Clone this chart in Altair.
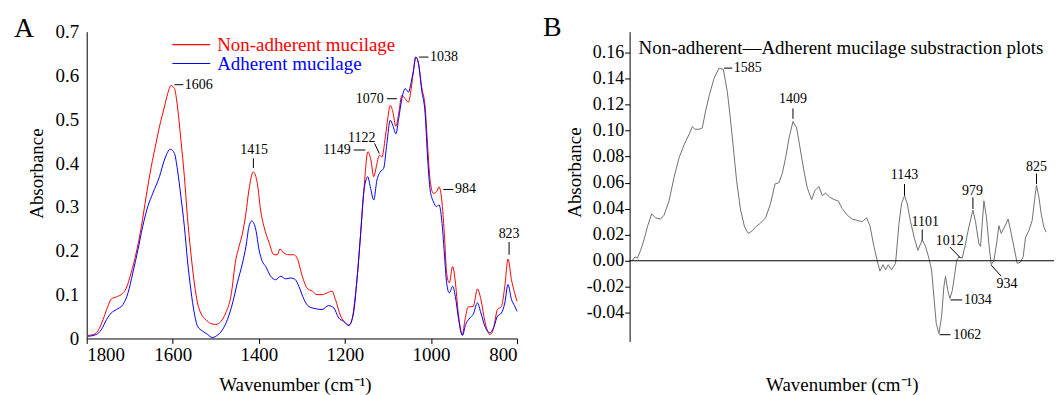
import altair as alt
import pandas as pd

FONT = "Liberation Serif"

# ---------------- Panel A data ----------------
series_names = ["Non-adherent mucilage", "Adherent mucilage"]
series_colors = ["#ff0000", "#0000ff"]

wn_red = [1797, 1785, 1774, 1762, 1751, 1743, 1731, 1720, 1708, 1697, 1685, 1673, 1662, 1650, 1639,
          1631, 1619.5, 1612, 1604, 1596, 1589, 1581, 1573, 1566, 1558, 1550, 1542.5, 1535, 1523,
          1511.5, 1500, 1488, 1477, 1465, 1453.5, 1446, 1438, 1430, 1423, 1413, 1403.5, 1396, 1388,
          1376, 1365, 1357, 1351, 1342, 1330, 1318.5, 1311, 1299, 1288, 1276, 1265, 1253, 1241,
          1230, 1222, 1210, 1199, 1191, 1183.5, 1176, 1172, 1164, 1156.5, 1146.5, 1139.6, 1133,
          1127, 1120, 1114, 1106, 1100, 1094.7, 1088.6, 1081.6, 1075, 1067.7, 1060, 1052.3, 1046,
          1040.7, 1035.4, 1029, 1021.5, 1013.6, 1007.6, 1002, 994.4, 986.8, 981.3, 975, 969,
          963.6, 957.4, 949.7, 944, 936.6, 927, 921, 913.4, 902, 892, 884, 874.8, 863, 855.5,
          845.5, 836.3, 828.5, 821, 813, 806, 800]
abs_red = [0.007, 0.009, 0.017, 0.043, 0.073, 0.090, 0.095, 0.100, 0.115, 0.149, 0.195, 0.255, 0.323,
           0.392, 0.445, 0.483, 0.528, 0.558, 0.577, 0.570, 0.528, 0.452, 0.369, 0.278, 0.195, 0.127,
           0.081, 0.058, 0.043, 0.034, 0.032, 0.039, 0.058, 0.096, 0.180, 0.210, 0.240, 0.286, 0.339,
           0.380, 0.354, 0.293, 0.255, 0.218, 0.191, 0.191, 0.204, 0.195, 0.191, 0.191, 0.183, 0.142,
           0.115, 0.108, 0.100, 0.100, 0.104, 0.108, 0.089, 0.051, 0.036, 0.030, 0.043, 0.096, 0.134,
           0.232, 0.331, 0.426, 0.407, 0.369, 0.392, 0.418, 0.414, 0.460, 0.505, 0.532, 0.517, 0.484,
           0.513, 0.555, 0.547, 0.539, 0.570, 0.611, 0.642, 0.627, 0.573, 0.528, 0.437, 0.361, 0.331,
           0.335, 0.346, 0.316, 0.240, 0.149, 0.127, 0.164, 0.134, 0.058, 0.009, 0.043, 0.072, 0.073,
           0.113, 0.089, 0.039, 0.009, 0.020, 0.066, 0.073, 0.119, 0.181, 0.134, 0.105, 0.085]

wn_blue = [1797, 1778, 1766, 1754, 1743, 1731, 1716, 1704, 1693, 1681, 1670, 1658, 1646.5, 1631,
           1619.5, 1605.5, 1596, 1589, 1581, 1573, 1566, 1558, 1550, 1542.5, 1531, 1519, 1508, 1500,
           1484.5, 1473, 1461, 1450, 1438, 1430, 1423, 1416.5, 1407, 1399.5, 1392, 1384, 1372.5,
           1361, 1349, 1338, 1326, 1315, 1307, 1295, 1284, 1268.5, 1253, 1238, 1226, 1214.5, 1203,
           1191, 1180, 1172, 1164, 1156.5, 1151, 1147, 1141, 1133, 1125.7, 1118, 1110, 1102.5,
           1094.7, 1088.6, 1081.6, 1075, 1067.7, 1060, 1052.3, 1046, 1040.7, 1035.4, 1029, 1021.5,
           1013.6, 1007.6, 1002, 994.4, 986.8, 981.3, 975, 969, 963.6, 957.4, 949.7, 943.4, 935.7,
           927, 919.4, 909.6, 902, 892, 884, 874.8, 863, 853.3, 845.5, 836.3, 828.5, 821, 813, 806,
           800]
abs_blue = [0.005, 0.009, 0.020, 0.043, 0.058, 0.066, 0.077, 0.104, 0.149, 0.202, 0.255, 0.301,
            0.331, 0.369, 0.407, 0.432, 0.422, 0.384, 0.323, 0.255, 0.180, 0.111, 0.058, 0.028,
            0.017, 0.009, 0.002, 0.005, 0.020, 0.043, 0.081, 0.127, 0.172, 0.210, 0.255, 0.268,
            0.248, 0.202, 0.176, 0.164, 0.142, 0.134, 0.142, 0.136, 0.138, 0.134, 0.119, 0.089,
            0.073, 0.068, 0.066, 0.075, 0.070, 0.047, 0.039, 0.030, 0.058, 0.134, 0.232, 0.331,
            0.362, 0.369, 0.346, 0.316, 0.361, 0.380, 0.388, 0.445, 0.498, 0.486, 0.467, 0.502,
            0.547, 0.570, 0.562, 0.585, 0.611, 0.642, 0.627, 0.566, 0.513, 0.407, 0.339, 0.312,
            0.301, 0.305, 0.270, 0.195, 0.127, 0.104, 0.119, 0.096, 0.043, 0.007, 0.032, 0.047,
            0.055, 0.081, 0.058, 0.028, 0.013, 0.028, 0.051, 0.058, 0.081, 0.123, 0.089, 0.075,
            0.062]

# Panel A peak labels (data units)
a_labels = ["1606", "1415", "1149", "1122", "1070", "1038", "984", "823"]
a_text_wn = [1572, 1411, 1186.6, 1161, 1110, 1002, 944.2, 818.5]
a_text_abs = [0.579, 0.430, 0.430, 0.458, 0.547, 0.642, 0.340, 0.239]
a_align = ["left", "center", "right", "center", "right", "left", "left", "center"]
a_line_wn1 = [1596.3, 1412.7, 1179.6, 1131, 1102.5, 1027.5, 971.3, 818.5]
a_line_abs1 = [0.579, 0.411, 0.430, 0.445, 0.547, 0.642, 0.340, 0.220]
a_line_wn2 = [1575.5, 1412.7, 1152.5, 1120.1, 1079.4, 1006, 948.1, 818.5]
a_line_abs2 = [0.579, 0.389, 0.430, 0.422, 0.547, 0.642, 0.340, 0.191]

a_x_ticks = [1800, 1600, 1400, 1200, 1000, 800]
a_y_ticks = [0, 0.1, 0.2, 0.3, 0.4, 0.5, 0.6, 0.7]

# ---------------- Panel B data ----------------
wn_diff = [1793.5, 1787, 1781.5, 1773.6, 1765.5, 1757.5, 1747, 1737.6, 1725.6, 1717.4, 1705.4,
           1693.4, 1681.4, 1669.4, 1657.4, 1649.5, 1643, 1633.4, 1625.5, 1617.6, 1608, 1597.4,
           1585.4, 1575, 1565.5, 1559, 1551, 1543, 1533.6, 1524, 1515, 1505.5, 1497.5, 1485.5,
           1473.5, 1461.5, 1451, 1441.4, 1433.5, 1425.5, 1417.4, 1407.8, 1399, 1392, 1381.4,
           1373.4, 1363, 1355, 1345.4, 1337.4, 1329.5, 1320, 1309.4, 1299, 1289.4, 1277.4, 1265.4,
           1253.4, 1241.4, 1231, 1223, 1213.4, 1205.4, 1199, 1191.8, 1185.5, 1179, 1171, 1161.5,
           1153.4, 1147, 1140, 1133.4, 1125.5, 1116, 1107.8, 1097.4, 1089.5, 1081.4, 1075, 1069.3,
           1063.8, 1057.4, 1051, 1045.4, 1041.5, 1035.8, 1031, 1025.4, 1020, 1015, 1009.4, 1001.4,
           993.4, 985.4, 975.7, 969.4, 961.3, 957.4, 949.3, 943, 937.4, 931.8, 925.3, 919, 913.3,
           907.8, 901.3, 891, 883.8, 877.4, 869.4, 861.4, 855, 849.4, 841.4, 833.4, 827.9, 823,
           817.3, 811.7, 805.4, 800]
abs_diff = [0.0004, 0.003, 0.002, 0.008, 0.016, 0.026, 0.036, 0.033, 0.032, 0.035, 0.046, 0.064,
            0.079, 0.089, 0.097, 0.103, 0.101, 0.101, 0.102, 0.115, 0.128, 0.140, 0.148, 0.147,
            0.130, 0.112, 0.087, 0.061, 0.039, 0.026, 0.021, 0.023, 0.026, 0.029, 0.033, 0.044,
            0.059, 0.060, 0.067, 0.079, 0.094, 0.107, 0.102, 0.089, 0.069, 0.056, 0.047, 0.054,
            0.057, 0.050, 0.052, 0.049, 0.047, 0.046, 0.040, 0.035, 0.032, 0.031, 0.030, 0.033,
            0.027, 0.011, 0.000, -0.008, -0.003, -0.007, -0.003, -0.007, -0.002, 0.028, 0.044,
            0.050, 0.044, 0.030, 0.017, 0.008, 0.016, 0.011, 0.002, -0.007, -0.028, -0.048, -0.056,
            -0.043, -0.020, -0.012, -0.023, -0.029, -0.023, -0.012, 0.000, 0.003, 0.002, 0.013,
            0.026, 0.039, 0.030, 0.013, 0.011, 0.046, 0.033, 0.013, -0.003, 0.000, 0.013, 0.027,
            0.021, 0.025, 0.032, 0.021, 0.011, -0.002, -0.001, 0.003, 0.018, 0.023, 0.031, 0.046,
            0.058, 0.049, 0.036, 0.026, 0.022]

b_labels = ["1585", "1409", "1143", "1101", "1012", "979", "825", "934", "1034", "1062"]
b_text_wn = [1549.9, 1407.8, 1140, 1090.2, 1031.4, 976.7, 823, 894.1, 997.3, 1023]
b_text_abs = [0.148, 0.124, 0.066, 0.0296, 0.0151, 0.0538, 0.0721, -0.0179, -0.0301, -0.0568]
b_align = ["left", "center", "center", "center", "center", "center", "center", "center", "left", "left"]
b_line_wn1 = [1573.4, 1407.8, 1140, 1097.4, 1030.9, 975.7, 823, 931.8, 1029.5, 1055.9]
b_line_abs1 = [0.148, 0.117, 0.059, 0.024, 0.0105, 0.0487, 0.067, -0.0034, -0.0301, -0.0568]
b_line_wn2 = [1553.5, 1407.8, 1140, 1097.4, 1005.5, 975.7, 823, 907.8, 1001.4, 1029.5]
b_line_abs2 = [0.148, 0.109, 0.050, 0.0156, 0.0021, 0.0398, 0.0589, -0.0118, -0.0301, -0.0568]

b_y_ticks = [-0.04, -0.02, 0.0, 0.02, 0.04, 0.06, 0.08, 0.10, 0.12, 0.14, 0.16]
b_title = "Non-adherent\u2014Adherent mucilage substraction plots"
x_title = "Wavenumber (cm\u207b\u00b9)"
y_title = "Absorbance"

# ---------------- Build tables ----------------
spec_df = pd.concat([
    pd.DataFrame({"wn": wn_red, "abs": abs_red, "series": series_names[0]}),
    pd.DataFrame({"wn": wn_blue, "abs": abs_blue, "series": series_names[1]}),
], ignore_index=True)

a_ann = pd.DataFrame({"label": a_labels, "tw": a_text_wn, "ta": a_text_abs, "align": a_align,
                      "w1": a_line_wn1, "a1": a_line_abs1, "w2": a_line_wn2, "a2": a_line_abs2})
diff_df = pd.DataFrame({"wn": wn_diff, "abs": abs_diff})
b_ann = pd.DataFrame({"label": b_labels, "tw": b_text_wn, "ta": b_text_abs, "align": b_align,
                      "w1": b_line_wn1, "a1": b_line_abs1, "w2": b_line_wn2, "a2": b_line_abs2})
zero_df = pd.DataFrame({"y": [0.0]})
title_df = pd.DataFrame({"t": [b_title]})

# ---------------- Panel A ----------------
xa = alt.Scale(domain=[1800, 800], nice=False, zero=False)
ya = alt.Scale(domain=[0, 0.7], nice=False, zero=False)

a_xaxis = alt.Axis(values=a_x_ticks, format="d", grid=False, tickSize=5, tickColor="black",
                   domainColor="black", labelFont=FONT, labelFontSize=19, labelColor="black",
                   labelPadding=2, labelOverlap=False, title=x_title, titleFont=FONT,
                   titleFontSize=19, titleFontWeight="normal", titleColor="black",
                   titleBaseline="alphabetic", titleX=209, titleY=52)
a_yaxis = alt.Axis(values=a_y_ticks, grid=False, ticks=False, domainColor="black",
                   labelExpr="datum.value == 0 ? '0' : format(datum.value, '.1f')",
                   labelFont=FONT, labelFontSize=19, labelColor="black", labelPadding=8,
                   labelOverlap=False, title=y_title, titleFont=FONT, titleFontSize=19,
                   titleFontWeight="normal", titleColor="black", titleX=-40, titleY=142)

a_lines = alt.Chart(spec_df).mark_line(strokeWidth=1, interpolate="monotone").encode(
    x=alt.X("wn:Q", scale=xa, axis=a_xaxis, title=x_title),
    y=alt.Y("abs:Q", scale=ya, axis=a_yaxis, title=y_title),
    color=alt.Color("series:N", sort=series_names,
                    scale=alt.Scale(domain=series_names, range=series_colors),
                    legend=alt.Legend(orient="none", legendX=85, legendY=4, title=None,
                                      symbolType="stroke", symbolSize=1444,
                                      symbolStrokeWidth=1.2, labelFont=FONT,
                                      labelFontSize=19, labelOffset=6, clipHeight=18,
                                      rowPadding=0, padding=0, labelLimit=500,
                                      labelColor={"expr": "datum.label == 'Adherent mucilage' ? '#0000ff' : '#ff0000'"})),
    order=alt.Order("wn:Q", sort="descending"),
)

a_rules = alt.Chart(a_ann).mark_rule(color="black", strokeWidth=1).encode(
    x=alt.X("w1:Q", scale=xa, axis=a_xaxis, title=x_title), x2="w2:Q",
    y=alt.Y("a1:Q", scale=ya, axis=a_yaxis, title=y_title), y2="a2:Q")


def texts(df, xs, ys, xax, yax):
    layers = []
    for al in ["left", "center", "right"]:
        layers.append(
            alt.Chart(df).transform_filter(alt.datum.align == al).mark_text(
                align=al, baseline="middle", font=FONT, fontSize=14, color="black"
            ).encode(x=alt.X("tw:Q", scale=xs, axis=xax, title=x_title),
                     y=alt.Y("ta:Q", scale=ys, axis=yax, title=y_title), text="label:N")
        )
    return layers


panel_a = alt.layer(a_lines, a_rules, *texts(a_ann, xa, ya, a_xaxis, a_yaxis)).properties(
    width=432, height=308,
    title=alt.TitleParams(text="A", anchor="start", frame="group", font=FONT, fontSize=28,
                          fontWeight="normal", color="black", dx=-73, dy=42, offset=0,
                          baseline="alphabetic"))

# ---------------- Panel B ----------------
xb = alt.Scale(domain=[1800, 781], nice=False, zero=False)
yb = alt.Scale(domain=[-0.062, 0.176], nice=False, zero=False)

b_xaxis = alt.Axis(labels=False, ticks=False, domain=False, grid=False, title=x_title,
                   titleFont=FONT, titleFontSize=19, titleFontWeight="normal",
                   titleColor="black", titleBaseline="alphabetic", titleY=49)
b_yaxis = alt.Axis(values=b_y_ticks, grid=False, tickSize=5, tickColor="black",
                   domainColor="black",
                   labelExpr="(datum.value < -0.0001 ? '-' : '') + format(abs(datum.value), '.2f')",
                   labelFont=FONT, labelFontSize=18, labelColor="black", labelPadding=1,
                   labelOverlap=False, labelBound=False, title=y_title, titleFont=FONT,
                   titleFontSize=19, titleFontWeight="normal", titleColor="black",
                   titleX=-45, titleY=141)

b_line = alt.Chart(diff_df).mark_line(strokeWidth=1, color="#707070").encode(
    x=alt.X("wn:Q", scale=xb, axis=b_xaxis, title=x_title),
    y=alt.Y("abs:Q", scale=yb, axis=b_yaxis, title=y_title),
    order=alt.Order("wn:Q", sort="descending"))

b_zero = alt.Chart(zero_df).mark_rule(color="black", strokeWidth=1).encode(
    y=alt.Y("y:Q", scale=yb, axis=b_yaxis, title=y_title))

b_rules = alt.Chart(b_ann).mark_rule(color="black", strokeWidth=1).encode(
    x=alt.X("w1:Q", scale=xb, axis=b_xaxis, title=x_title), x2="w2:Q",
    y=alt.Y("a1:Q", scale=yb, axis=b_yaxis, title=y_title), y2="a2:Q")

b_head = alt.Chart(title_df).mark_text(align="left", baseline="alphabetic", font=FONT,
                                       fontSize=19, color="black").encode(
    x=alt.value(9), y=alt.value(22), text="t:N")

panel_b = alt.layer(b_line, b_zero, b_rules, *texts(b_ann, xb, yb, b_xaxis, b_yaxis),
                    b_head).properties(
    width=426, height=311,
    title=alt.TitleParams(text="B", anchor="start", frame="group", font=FONT, fontSize=28,
                          fontWeight="normal", color="black", dx=-87, dy=32, offset=0,
                          baseline="alphabetic"))

chart = alt.hconcat(panel_a, panel_b, spacing=113, bounds="flush").properties(
    padding={"left": 6, "top": 5, "right": 0, "bottom": 0}, background="white"
).configure_view(stroke=None)

chart.save("out.html", embed_options={"renderer": "svg", "actions": False})
